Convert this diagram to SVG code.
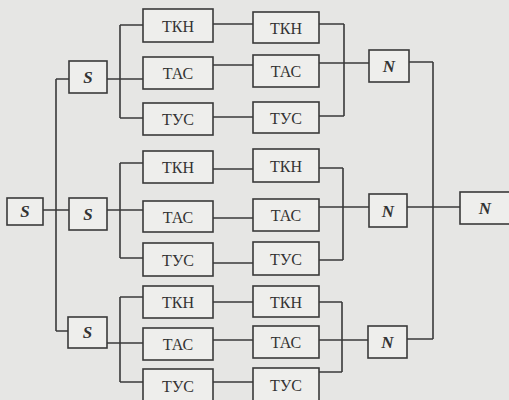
<svg xmlns="http://www.w3.org/2000/svg" width="509" height="400" viewBox="0 0 509 400">
<style>
.bg{fill:#e6e6e4}
.box rect{fill:#eeeeec;stroke:#3a3a3a;stroke-width:1.6}
.box text{font-family:"Liberation Serif","DejaVu Serif",serif;fill:#333;text-anchor:middle;dominant-baseline:central}
.t{font-size:16px}
.v{font-size:17px;font-style:italic;font-weight:bold}
#wires path{fill:none;stroke:#3a3a3a;stroke-width:1.6}
</style>
<rect class="bg" x="0" y="0" width="509" height="400"/>
<g id="wires">
<path d="M43 210H69M56 79V331M56 79H69M56 331H68"/>
<path d="M107 79H143M120 25V118M120 25H143M120 118H143"/>
<path d="M213 24H253M213 65H253M213 117H253"/>
<path d="M319 24H344M319 63H369M319 116H344M344 24V116M409 62H433"/>
<path d="M107 210H143M120 163V258M120 163H143M120 258H143"/>
<path d="M213 169H253M213 218H253M213 263H253"/>
<path d="M319 168H343M319 207H369M319 260H343M343 168V260M407 207H460"/>
<path d="M433 62V339"/>
<path d="M107 343H143M120 297V382M120 297H143M120 382H143"/>
<path d="M213 302H253M213 340H253M213 382H253"/>
<path d="M319 302H342M319 340H368M319 372H342M342 302V372M407 339H433"/>
</g>
<g id="s0" class="box"><rect x="7" y="198" width="36" height="27"/><text class="v" x="25" y="211">S</text></g>
<g id="s1" class="box"><rect x="69" y="61" width="38" height="32"/><text class="v" x="88" y="77">S</text></g>
<g id="s2" class="box"><rect x="69" y="198" width="38" height="32"/><text class="v" x="88" y="214">S</text></g>
<g id="s3" class="box"><rect x="68" y="317" width="39" height="31"/><text class="v" x="87.5" y="332">S</text></g>
<g id="tkn1a" class="box"><rect x="143" y="9" width="70" height="33"/><text class="t" x="178" y="26">ТКН</text></g>
<g id="tas1a" class="box"><rect x="143" y="57" width="70" height="32"/><text class="t" x="178" y="73">ТАС</text></g>
<g id="tus1a" class="box"><rect x="143" y="103" width="70" height="32"/><text class="t" x="178" y="119">ТУС</text></g>
<g id="tkn1b" class="box"><rect x="253" y="12" width="66" height="31"/><text class="t" x="286" y="28">ТКН</text></g>
<g id="tas1b" class="box"><rect x="253" y="55" width="66" height="32"/><text class="t" x="286" y="71">ТАС</text></g>
<g id="tus1b" class="box"><rect x="253" y="102" width="66" height="31"/><text class="t" x="286" y="118">ТУС</text></g>
<g id="n1" class="box"><rect x="369" y="50" width="40" height="32"/><text class="v" x="389" y="66">N</text></g>
<g id="tkn2a" class="box"><rect x="143" y="151" width="70" height="32"/><text class="t" x="178" y="167">ТКН</text></g>
<g id="tas2a" class="box"><rect x="143" y="201" width="70" height="31"/><text class="t" x="178" y="217">ТАС</text></g>
<g id="tus2a" class="box"><rect x="143" y="243" width="70" height="33"/><text class="t" x="178" y="260">ТУС</text></g>
<g id="tkn2b" class="box"><rect x="253" y="149" width="66" height="33"/><text class="t" x="286" y="166">ТКН</text></g>
<g id="tas2b" class="box"><rect x="253" y="199" width="66" height="32"/><text class="t" x="286" y="215">ТАС</text></g>
<g id="tus2b" class="box"><rect x="253" y="242" width="66" height="33"/><text class="t" x="286" y="259">ТУС</text></g>
<g id="n2" class="box"><rect x="369" y="194" width="38" height="33"/><text class="v" x="388" y="211">N</text></g>
<g id="nf" class="box"><rect x="460" y="192" width="60" height="32"/><text class="v" x="485" y="208">N</text></g>
<g id="tkn3a" class="box"><rect x="143" y="286" width="70" height="32"/><text class="t" x="178" y="302">ТКН</text></g>
<g id="tas3a" class="box"><rect x="143" y="328" width="70" height="32"/><text class="t" x="178" y="344">ТАС</text></g>
<g id="tus3a" class="box"><rect x="143" y="369" width="70" height="40"/><text class="t" x="178" y="386">ТУС</text></g>
<g id="tkn3b" class="box"><rect x="253" y="286" width="66" height="31"/><text class="t" x="286" y="302">ТКН</text></g>
<g id="tas3b" class="box"><rect x="253" y="326" width="66" height="32"/><text class="t" x="286" y="342">ТАС</text></g>
<g id="tus3b" class="box"><rect x="253" y="368" width="66" height="40"/><text class="t" x="286" y="385">ТУС</text></g>
<g id="n3" class="box"><rect x="368" y="326" width="39" height="32"/><text class="v" x="387.5" y="342">N</text></g>
</svg>
